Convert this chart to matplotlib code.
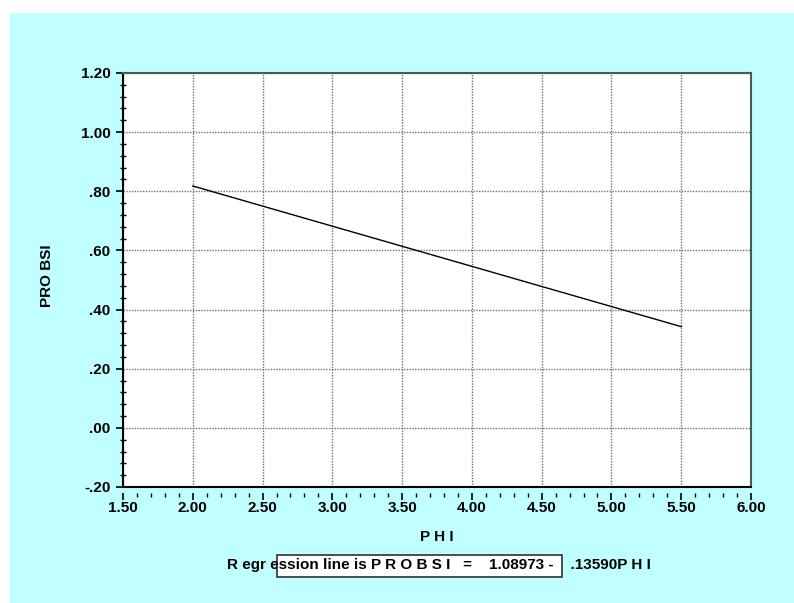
import numpy as np
import matplotlib
matplotlib.use('Agg')
import matplotlib.pyplot as plt
from matplotlib.patches import Rectangle
from matplotlib.ticker import MultipleLocator

plt.rcParams['font.family'] = ['Liberation Sans', 'DejaVu Sans']
plt.rcParams['font.weight'] = 'bold'
plt.rcParams['font.size'] = 11

# regression line end points (PHI, PROBSI)
phi = [2.0, 5.5]
probsi = [0.8179, 0.3423]

x_ticks = [1.5, 2.0, 2.5, 3.0, 3.5, 4.0, 4.5, 5.0, 5.5, 6.0]
x_labels = ['1.50', '2.00', '2.50', '3.00', '3.50', '4.00', '4.50', '5.00', '5.50', '6.00']
y_ticks = [-0.2, 0.0, 0.2, 0.4, 0.6, 0.8, 1.0, 1.2]
y_labels = ['-.20', '.00', '.20', '.40', '.60', '.80', '1.00', '1.20']

W, H = 794, 603
fig = plt.figure(figsize=(W / 100, H / 100), dpi=100)
fig.patch.set_facecolor('white')

# cyan backdrop
fig.add_artist(Rectangle((10 / W, 0), 1, (H - 13) / H, transform=fig.transFigure,
                         facecolor='#c0ffff', edgecolor='none', zorder=-10))

ax = fig.add_axes([123 / W, (H - 487) / H, (751 - 123) / W, (487 - 73) / H])
ax.set_facecolor('white')

ax.plot(phi, probsi, color='black', lw=1.0, zorder=3)

ax.set_xlim(1.5, 6.0)
ax.set_ylim(-0.2, 1.2)
ax.set_xticks(x_ticks)
ax.set_xticklabels(x_labels)
ax.set_yticks(y_ticks)
ax.set_yticklabels(y_labels)
ax.xaxis.set_minor_locator(MultipleLocator(0.1))
ax.yaxis.set_minor_locator(MultipleLocator(0.04))

ax.grid(True, which='major', color='#707070', linestyle=(0, (1, 1)), lw=1.0)
ax.set_axisbelow(True)

# tick row on x detached from the frame
ax.spines['bottom'].set_position(('outward', 4.3))
ax.spines['bottom'].set_visible(False)
ax.plot([0, 1], [0, 0], transform=ax.transAxes, color='black', lw=1.5,
        clip_on=False, zorder=4)
ax.spines['left'].set_linewidth(1.5)
ax.spines['left'].set_color('black')
for s in ['top', 'right']:
    ax.spines[s].set_linewidth(1.5)
    ax.spines[s].set_color('#4a5a5a')

ax.tick_params(axis='x', which='major', direction='out', length=5, width=1.2,
               pad=1, colors='black')
ax.tick_params(axis='x', which='minor', direction='out', length=3, width=1.0)
ax.tick_params(axis='y', which='major', direction='out', length=5, width=1.2,
               pad=4)
ax.tick_params(axis='y', which='minor', direction='inout', length=4, width=1.0)

ax.set_xlabel('P H I', fontweight='bold', va='center')
ax.xaxis.set_label_coords(0.5, (487 - 537) / 414)
ax.set_ylabel('PRO BSI', fontweight='bold', va='center')
ax.yaxis.set_label_coords((47 - 123) / 628, 0.51)

# regression annotation
fig.add_artist(Rectangle((277 / W, (H - 577) / H), (562 - 277) / W, 22 / H,
                         transform=fig.transFigure, facecolor='white',
                         edgecolor='#303030', lw=1.2, zorder=1))
fig.text(227 / W, (H - 565) / H,
         'R egr ession line is P R O B S I   =    1.08973 -    .13590P H I',
         ha='left', va='center', fontweight='bold', zorder=2)

fig.savefig('out.png', dpi=100)
